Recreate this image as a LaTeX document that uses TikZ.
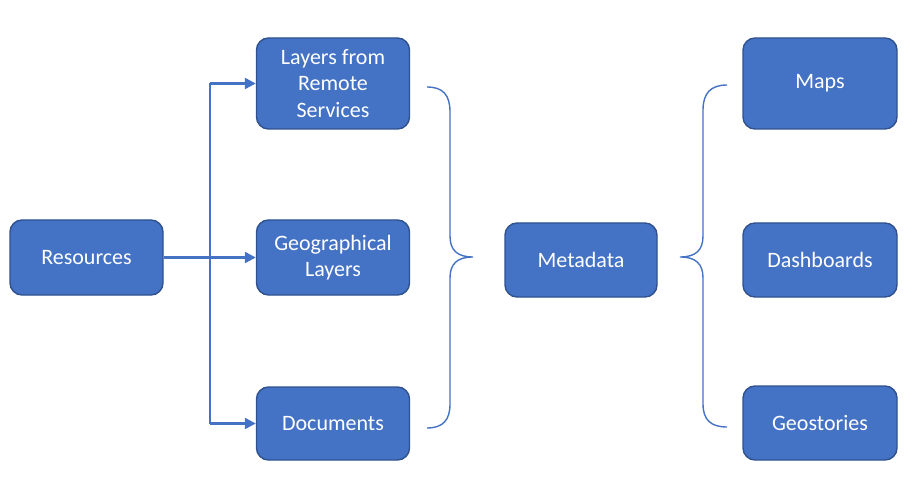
\documentclass[tikz,border=0pt]{standalone}
\usepackage{fontspec}
\setmainfont{Carlito}
\usetikzlibrary{arrows.meta}
\definecolor{boxfill}{HTML}{4472C4}
\definecolor{boxedge}{HTML}{2F528F}
\begin{document}
\begin{tikzpicture}[x=1pt,y=-1pt,
  box/.style={draw=boxedge,line width=1.4pt,fill=boxfill,rounded corners=12pt,
    text=white,align=center,inner sep=0pt,minimum width=153pt,
    font=\fontsize{22}{26.5}\selectfont},
  arr/.style={draw=boxfill,line width=2.3pt,-{Triangle[length=11pt,width=11pt]}},
  link/.style={draw=boxfill,line width=2.3pt},
  brace/.style={draw=boxfill,line width=1.4pt}]
\useasboundingbox (0,0) rectangle (915,478);
\node[box,minimum height=75pt] (res) at (86.5,257.5) {Resources};
\node[box,minimum height=91pt] (lrs) at (333,83.5) {Layers from\\Remote\\Services};
\node[box,minimum height=75pt] (geo) at (333,257.5) {Geographical\\Layers};
\node[box,minimum height=73pt] (doc) at (333,423.5) {Documents};
\node[box,minimum height=74pt,minimum width=152pt] (meta) at (581,260) {Metadata};
\node[box,minimum height=91pt,minimum width=154pt] (maps) at (820,83.5) {Maps};
\node[box,minimum height=74pt,minimum width=154pt] (dash) at (820,260) {Dashboards};
\node[box,minimum height=74pt,minimum width=154pt] (geos) at (820,423) {Geostories};
\coordinate (jt) at (210,83.5);
\coordinate (jb) at (210,423.5);
\draw[arr] (res.east) -- (geo.west);
\draw[link] (jt) -- (jb);
\draw[arr] (jt) -- (lrs.west);
\draw[arr] (jb) -- (doc.west);
% left brace
\draw[brace] (427,87) .. controls (443,87) and (450,95) .. (450,112) -- (450,236)
  .. controls (450,250) and (457,257) .. (473,257)
  .. controls (457,257) and (450,264) .. (450,278) -- (450,404)
  .. controls (450,420) and (443,428) .. (427,428);
% right brace
\draw[brace] (727,85) .. controls (711,85) and (703,93) .. (703,110) -- (703,236)
  .. controls (703,250) and (696,257) .. (680,257)
  .. controls (696,257) and (703,264) .. (703,278) -- (703,404)
  .. controls (703,420) and (711,427) .. (727,427);
\end{tikzpicture}
\end{document}
